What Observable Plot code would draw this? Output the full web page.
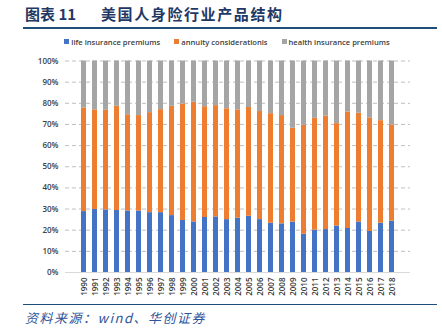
<!DOCTYPE html>
<html><head><meta charset="utf-8">
<script src="https://cdn.jsdelivr.net/npm/d3@7"></script>
<script src="https://cdn.jsdelivr.net/npm/@observablehq/plot@0.6"></script>
<style>
body{margin:0;width:442px;height:330px;background:#fff;font-family:"Open Sans","Noto Sans",sans-serif;position:relative;overflow:hidden}
.title{position:absolute;top:3px;font-family:"Noto Sans CJK SC",serif;font-weight:bold;font-size:15px;color:#1f3864;white-space:pre}
#tline{position:absolute;left:23px;top:27px;width:414px;height:2px;background:#1f4e79}
#legend{position:absolute;left:0;top:37px;width:442px;text-align:center;font-size:7.6px;font-weight:600;color:#404040;white-space:nowrap;padding-left:12px;box-sizing:border-box}
#legend span.item{margin:0 7px}
#legend i{display:inline-block;width:5px;height:5px;margin-right:2px;vertical-align:1px}
#chart{position:absolute;left:0;top:50px}
#cline{position:absolute;left:23px;top:304px;width:414px;height:1px;background:#1f4e79}
#caption{position:absolute;left:25px;top:308px;font-family:"Noto Sans CJK SC",serif;font-style:italic;font-size:13px;letter-spacing:1.5px;color:#2e5597;white-space:pre}
</style></head>
<body>
<div class="title" style="left:25px">图表 11</div>
<div class="title" style="left:101px;letter-spacing:1.6px">美国人身险行业产品结构</div>
<div id="tline"></div>
<div id="legend"></div>
<div id="chart"></div>
<div id="cline"></div>
<div id="caption">资料来源：wind、华创证券</div>
<script>
const years = ["1990","1991","1992","1993","1994","1995","1996","1997","1998","1999","2000","2001","2002","2003","2004","2005","2006","2007","2008","2009","2010","2011","2012","2013","2014","2015","2016","2017","2018"];
const seriesNames = ["life insurance premiums","annuity considerationis","health insurance premiums"];
const seriesColors = ["#4472c4","#ed7d31","#a5a5a5"];
const life = [28.8,29.8,29.6,29.3,29.1,29.1,28.3,28.3,26.9,24.6,23.9,26.0,26.3,25.0,25.7,26.6,25.0,23.3,23.0,23.8,18.1,20.0,20.3,22.0,20.8,23.9,19.4,23.3,24.3];
const annuity = [49.0,47.1,47.1,49.3,45.5,45.1,47.3,48.7,51.7,55.1,56.6,52.4,52.6,52.4,51.2,51.4,51.1,51.8,51.2,44.4,51.5,52.9,53.6,48.4,55.1,51.4,53.7,48.5,45.5];
const health = life.map((v,i)=>+(100 - v - annuity[i]).toFixed(1));
const yTicks = [0,10,20,30,40,50,60,70,80,90,100];

const allSeries = [life, annuity, health];
const rows = [];
years.forEach((y,i)=>allSeries.forEach((s,k)=>rows.push({year:y, series:seriesNames[k], value:s[i]})));

const leg = document.getElementById("legend");
seriesNames.forEach((n,k)=>{
  const s=document.createElement("span");s.className="item";
  s.innerHTML=`<i style="background:${seriesColors[k]}"></i>${n}`;
  leg.appendChild(s);
});

const chart = Plot.plot({
  width: 442, height: 250,
  marginTop: 10.5, marginBottom: 28, marginLeft: 65, marginRight: 32,
  style: {fontFamily: "'Open Sans','Noto Sans',sans-serif", color: "#404040", background: "transparent"},
  x: {domain: years, padding: 0.56, label: null, tickSize: 0, tickRotate: -90, tickPadding: 5},
  y: {domain: [0,100], ticks: yTicks, tickFormat: d => d + "%", label: null, tickSize: 0, tickPadding: 7},
  color: {domain: seriesNames, range: seriesColors},
  marks: [
    Plot.gridY(yTicks.filter(t=>t>0), {stroke: "#bfbfbf", strokeOpacity: 1, strokeDasharray: "4,3", strokeWidth: 1}),
    Plot.ruleY([0], {stroke: "#d9d9d9"}),
    Plot.barY(rows, Plot.stackY({x: "year", y: "value", fill: "series", z: "series", order: seriesNames})),
    Plot.axisY({ticks: yTicks, tickFormat: d => d + "%", tickSize: 0, tickPadding: 7, fontSize: 8, fontWeight: 600, label: null}),
    Plot.axisX({tickSize: 0, tickRotate: -90, tickPadding: 5, fontSize: 8, fontWeight: 600, label: null})
  ]
});
document.getElementById("chart").appendChild(chart);
</script>
</body></html>
